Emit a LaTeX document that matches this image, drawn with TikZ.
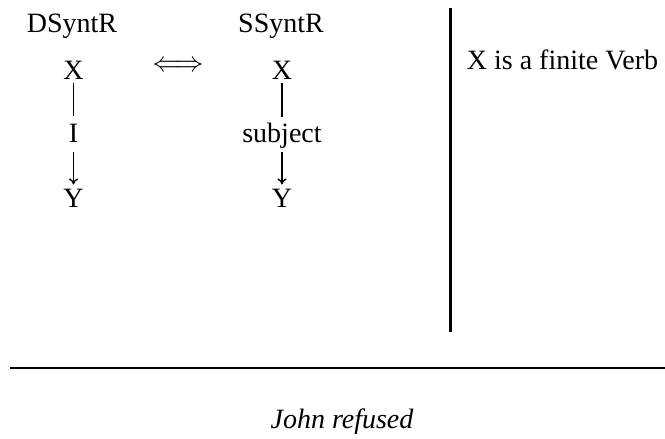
\RequirePackage{fix-cm}
\documentclass[tikz,border=0pt]{standalone}
\usepackage{fontspec}
\setmainfont{Liberation Serif}
\usetikzlibrary{arrows.meta}
\begin{document}
\begin{tikzpicture}[x=1pt,y=-1pt,
  every node/.style={font=\fontsize{28}{33}\selectfont},
  lbl/.style={anchor=base,inner sep=0pt},
  tn/.style={anchor=base,inner sep=4pt},
  edge/.style={line width=1.4pt},
  arr/.style={line width=1.4pt,-{To[length=6pt,width=9pt]}},
  rule/.style={line width=2.6pt}]
\useasboundingbox (0,0) rectangle (665,439);
% headers
\node[lbl] (dh) at (72,32) {DSyntR};
\node[lbl] (sh) at (281,32) {SSyntR};
\node[inner sep=0pt] (eq) at (178,66) {$\Longleftrightarrow$};
% left tree
\node[tn] (xl) at (73.5,79) {X};
\node[tn] (il) at (73.5,142) {I};
\node[tn] (yl) at (73.5,207) {Y};
\draw[edge,shorten >=3pt] (xl.south) -- (il.north);
\draw[arr,shorten <=6pt] (il.south) -- (yl.north);
% right tree
\node[tn] (xr) at (282,79) {X};
\node[tn] (sr) at (282,142) {subject};
\node[tn] (yr) at (282,207) {Y};
\draw[edge,shorten >=1pt] (xr.south) -- (sr.north);
\draw[arr] (sr.south) -- (yr.north);
% separators
\coordinate (vt) at (450,7.5);
\coordinate (vb) at (450,332);
\draw[line width=3pt] (vt) -- (vb);
\node[lbl,anchor=base west] (cond) at (466.7,69.3) {X is a finite Verb};
\coordinate (hl) at (10,368);
\coordinate (hr) at (665,368);
\draw[rule] (hl) -- (hr);
\node[lbl] (ex) at (342,428) {\itshape John refused};
\end{tikzpicture}
\end{document}
